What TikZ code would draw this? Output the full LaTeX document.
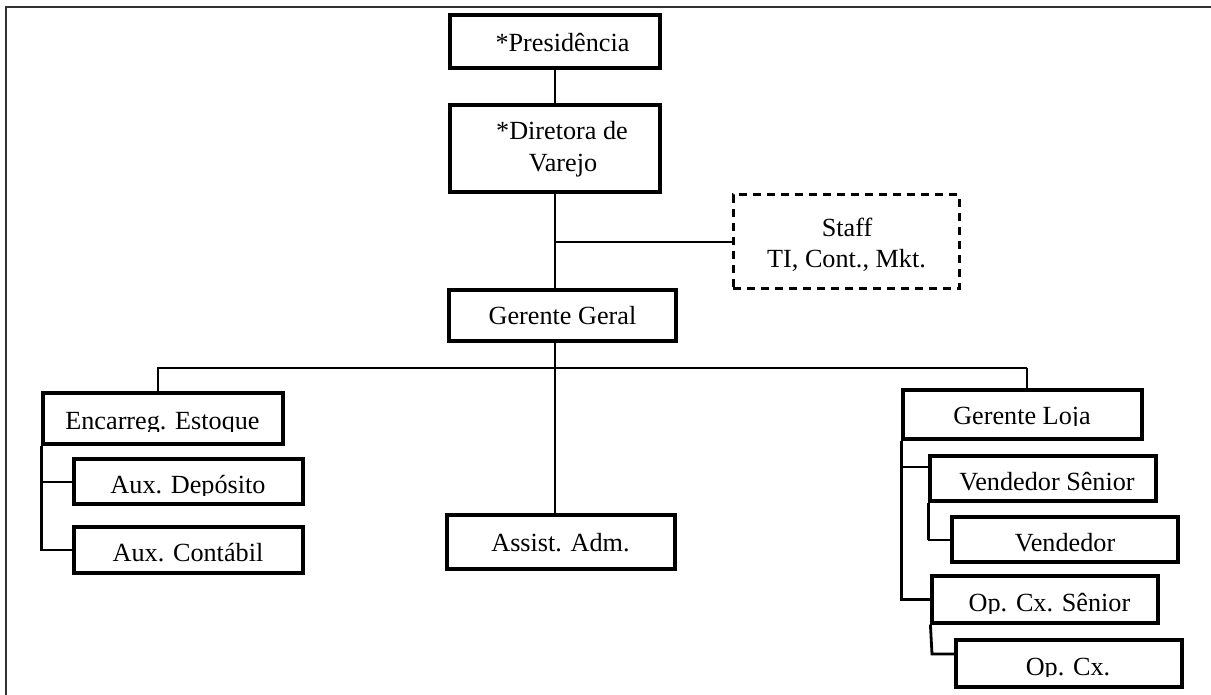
\documentclass[tikz,border=0pt]{standalone}
\usepackage{fontspec}
\setmainfont{Liberation Serif}
\begin{document}
\begin{tikzpicture}[x=0.5pt,y=-0.5pt,
  box/.style={draw, line width=1.6pt, inner sep=0pt},
  dbox/.style={draw, line width=1.5pt, inner sep=0pt, dash pattern=on 4.2pt off 2.8pt},
  lbl/.style={inner sep=0pt, anchor=base, font=\fontsize{13.1pt}{15.8pt}\selectfont},
  conn/.style={line width=1.4pt},
  thin/.style={line width=1pt},
  frame/.style={line width=1pt, black!80}]
\useasboundingbox (0,0) rectangle (1211,695);
% frame
\coordinate (ftl) at (6,7);
\coordinate (ftr) at (1211,7);
\coordinate (fbl) at (6,695);
\draw[frame] (fbl) -- (ftl) -- (ftr);
% box macro: name, x1, y1, x2, y2, style
\newcommand\mkbox[6]{\node[#6, minimum width={(#4-#2)*0.5pt}, minimum height={(#5-#3)*0.5pt}] (#1) at ({(#2+#4)/2},{(#3+#5)/2}) {};}
\newcommand\cliptext[5]{\begin{scope}\clip (0,0) rectangle (1211,#5); \node[lbl] (#1) at (#2,#3) {#4};\end{scope}}
\mkbox{pres}{450}{15}{660}{68}{box}
\mkbox{dir}{450}{105}{660}{192}{box}
\mkbox{staff}{733}{195}{959}{289}{dbox}
\mkbox{gg}{449}{290}{676}{341}{box}
\mkbox{enc}{43}{393}{283}{444}{box}
\mkbox{dep}{74}{459}{303}{504}{box}
\mkbox{cont}{74}{527}{303}{573}{box}
\mkbox{assist}{447}{515}{675}{569}{box}
\mkbox{loja}{903}{390}{1142}{439}{box}
\mkbox{vsen}{930}{456}{1156}{501}{box}
\mkbox{vend}{952}{517}{1178}{562}{box}
\mkbox{opsen}{932}{576}{1158}{623}{box}
\mkbox{opcx}{956}{640}{1182}{687}{box}
% texts
\node[lbl] (tpres) at (562.5,51.7) {*Presidência};
\node[lbl] (tdir1) at (562,140) {*Diretora de};
\node[lbl] (tdir2) at (563,171.7) {Varejo};
\node[lbl] (tstaff1) at (847,236.7) {Staff};
\node[lbl] (tstaff2) at (846.5,268) {TI, Cont., Mkt.};
\node[lbl] (tgg) at (562.5,325) {Gerente Geral};
\cliptext{tenc}{162.5}{429.3}{Encarreg. Estoque}{431.5}
\cliptext{tdep}{188}{494}{Aux. Depósito}{495.5}
\cliptext{tcont}{188}{561.7}{Aux. Contábil}{562.5}
\node[lbl] (tassist) at (560.5,551.7) {Assist. Adm.};
\cliptext{tloja}{1022}{424}{Gerente Loja}{426}
\node[lbl] (tvsen) at (1047,490.7) {Vendedor Sênior};
\cliptext{tvend}{1065}{551.7}{Vendedor}{552.5}
\cliptext{topsen}{1049.5}{611.7}{Op. Cx. Sênior}{613}
\cliptext{topcx}{1068}{675}{Op. Cx.}{676.5}
% connectors
\draw[conn] (pres.south) -- (dir.north);
\draw[conn] (dir.south) -- (dir.south |- gg.north);
\draw[conn] (staff.west) -- (staff.west -| dir.south);
\draw[conn] (dir.south |- gg.south) -- (dir.south |- assist.north);
\coordinate (bl) at (158,368);
\coordinate (br) at (1027,368);
\draw[conn] (bl |- enc.north) -- (bl) -- (br);
\draw[thin] (br) -- (br |- loja.north);
% left branch
\draw[conn] (enc.south west) -- (enc.south west |- cont.west) -- (cont.west);
\draw[thin] (enc.south west |- dep.west) -- (dep.west);
% right branch
\draw[conn] (loja.south west) -- (loja.south west |- opsen.west) -- (opsen.west);
\coordinate (vsc) at (903,467);
\draw[thin] (vsc) -- (vsc -| vsen.west);
\draw[conn] (vsen.south west) -- (vsen.south west |- vend.west);
\draw[thin] (vsen.south west |- vend.west) -- (vend.west);
\coordinate (oc) at (932,654);
\draw[conn] (opsen.south west) -- (oc) -- (oc -| opcx.west);
\end{tikzpicture}
\end{document}
